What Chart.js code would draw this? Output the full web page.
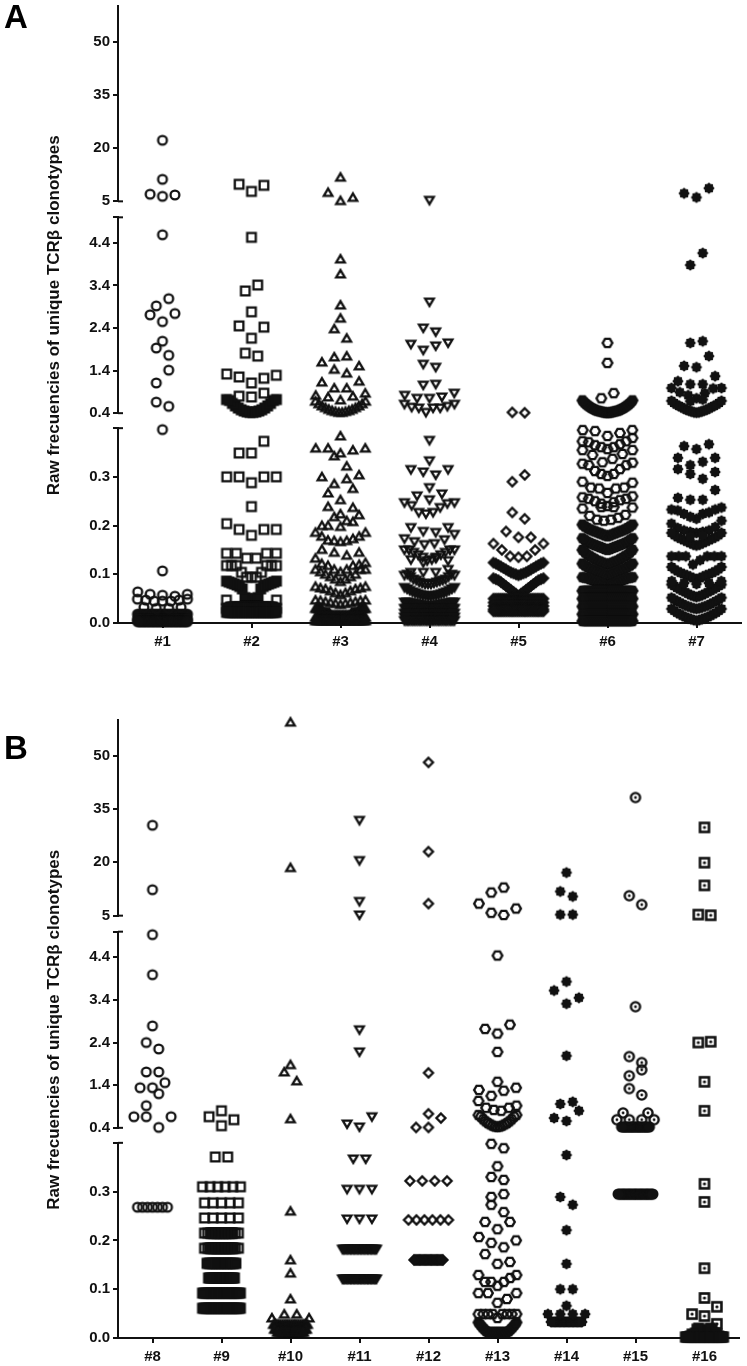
<!DOCTYPE html>
<html><head><meta charset="utf-8">
<style>html,body{margin:0;padding:0;background:#fff;overflow:hidden;width:747px;height:1366px}
canvas{position:absolute;left:0}</style>
<script src="https://cdn.jsdelivr.net/npm/chart.js@4"></script>
</head><body>
<canvas id="a" style="top:0"></canvas>
<canvas id="b" style="top:714px"></canvas>
<script>
const categoriesA=['#1','#2','#3','#4','#5','#6','#7'];
const categoriesB=['#8','#9','#10','#11','#12','#13','#14','#15','#16'];
const ticksHigh=[5,20,35,50];
const ticksMid=[0.4,1.4,2.4,3.4,4.4];
const ticksLow=[0,0.1,0.2,0.3];
const axisTitle='Raw frecuencies of unique TCRβ clonotypes';
// helpers: R = a run of equal values, S = a row with a narrower span (px), H = keep a crowded row's marks open
const R=(v,n)=>Array(n).fill(v);
const S=(span,row)=>{row.span=span;return row;};
const H=row=>{row.hollow=true;return row;};

// Each series is a list of swarm rows. In a row, values run from the centre outwards (left, right, left ...)
const series1=[[22.2],[11.2],[6.4,7,6.8],[4.59],[2.92,3.09],[2.55,2.71,2.74],[2.09],[1.93,1.76],[1.11,1.41],[.66,.56],
 [.397],[.107],[.057,.059,.055,.064,.059],[.045,.045,.045,.047,.047,.049,.049],[.03,.03,.032,.032],
 R(.018,25),R(.008,40),R(.003,40)];
const series2=[[7.8,9.8,9.5],[4.53],[3.27,3.41],[2.78],[2.16,2.45,2.42],[1.81,1.74],[1.11,1.25,1.22,1.32,1.29],[.78,.80,.87],
 [.42,.42,.43,.43,.45,.45,.48,.48,.52,.52,.57,.57,.63,.63,.70,.70,.72,.72],
 [.349,.349,.373],[.288,.30,.30,.30,.30],[.239],[.18,.192,.192,.204,.192],[.133,.133,.143,.143,.143,.143],
 [.094,.094,.094,.104,.104,.118,.118,.118,.118,.118,.118],
 [.048,.048,.05,.05,.052,.052,.07,.07,.075,.075,.078,.078,.08,.08,.082,.082,.084,.084,.086,.086],
 H([...R(null,22),.047,.047]),S(42,R(.033,22)),R(.03,30),R(.022,30)];
const series3=[[11.8],[5.2,7.5,6.1],[4.02],[3.67],[2.94],[2.63],[2.38,2.16],[1.72,1.74],[1.43,1.34,1.6,1.51],[.99,.99,1.13,1.15],
 [.71,.78,.80,.82,.87],[.42,.42,.44,.44,.46,.46,.49,.49,.53,.53,.57,.57,.62,.62,.68,.68],
 [.384],[.349,.359,.355,.359,.359],[.343,.322],[.286,.296,.30,.304],[.253,.267,.276],[.224,.239,.237],[.218,.21,.2,.222],[.198,.2,.208],
 [.167,.169,.169,.170,.173,.178,.178,.186,.186],[.145,.139,.151,.145],
 [.105,.11,.11,.118,.118,.122,.12,.133,.124],[.085,.09,.09,.095,.095,.1,.1,.105,.11,.11,.11],
 [.058,.062,.062,.066,.066,.07,.07,.072,.072,.075,.075],[.038,.04,.04,.042,.042,.044,.044,.046,.046,.047,.047],
 [...R(.016,14),...R(.022,10),...R(.03,10)],R(.012,40),R(.005,40)];
const series4=[[5.3],[3.01],[2.4,2.31],[1.88,1.98,2.02,2.05],[1.55,1.48],[1.06,1.08],[.75,.75,.78,.82,.87],[.42,.52,.52,.52,.54,.56,.61,.61],
 [.375],[.333],[.31,.304,.315,.315],[.278,.261,.265],[.253],[.224,.227,.227,.237,.241,.245,.247,.247],[.188,.186,.196,.196],
 [.161,.163,.167,.171,.173,.182],[.128,.13,.135,.135,.14,.14,.145,.145,.15,.15,.15,.15],[.124,.133,.13,.128],[.104,.104,.104,.11],
 H([.08,.08,.08,.082,.082,.084,.084,.086,.088,.088,.09,.09,.095,.095,.1,.1,.098,.098]),
 [.055,.055,.056,.056,.057,.057,.058,.058,.06,.06,.062,.062,.064,.064,.067,.067,.07,.07,.073,.073],
 [.035,.035,.036,.036,.037,.037,.038,.038,.039,.039,.04,.04,.041,.041,.042,.042,.043,.043,.043,.043],
 R(.03,30),R(.02,30),R(.012,30),R(.005,30)];
const series5=[[.42,.41],[.29,.304],[.227,.214],[.176,.188,.176],[.135,.137,.137,.15,.15,.163,.163],
 [.098,.1,.1,.102,.102,.104,.104,.107,.107,.11,.11,.113,.113,.116,.116,.119,.119,.122,.122,.124,.124],
 [.056,.06,.06,.064,.064,.068,.068,.072,.072,.076,.076,.08,.08,.084,.084,.088,.088,.09,.09,.092,.092],
 R(.05,28),R(.042,28),R(.035,28),R(.028,28),R(.024,28)];
const series6=[[2.05],[1.58],[.75,.87],
 [.41,.41,.41,.42,.42,.43,.43,.44,.44,.45,.45,.46,.46,.48,.48,.5,.5,.52,.52,.55,.55,.58,.58,.61,.61,.65,.65,.7,.7],
 [.384,.394,.39,.396,.396],[.357,.361,.361,.365,.367,.371,.373,.373,.38],[.33,.337,.345,.347,.355,.355],
 [.302,.306,.306,.312,.316,.324,.324,.327,.329],[.267,.276,.276,.278,.278,.29,.288],[.24,.245,.248,.25,.252,.255,.255,.258,.26],[.238,.238],
 [.21,.212,.212,.216,.22,.222,.235,.237],
 [.178,.18,.18,.182,.182,.184,.184,.186,.186,.188,.188,.19,.19,.192,.192,.195,.195,.198,.198,.202,.202],
 [.15,.152,.152,.154,.154,.156,.156,.158,.158,.16,.16,.162,.162,.164,.164,.167,.167,.17,.17,.174,.174],
 [.12,.122,.122,.124,.124,.126,.126,.128,.128,.131,.131,.134,.134,.137,.137,.14,.14,.145,.145,.15,.15],
 [.098,.1,.1,.102,.102,.104,.104,.106,.106,.108,.108,.11,.11,.112,.112,.115,.115,.118,.118,.122,.122],
 [.076,.078,.078,.08,.08,.082,.082,.084,.084,.086,.086,.088,.088,.09,.09,.092,.092,.093,.093,.094,.094],
 R(.066,26),R(.05,26),R(.034,26),R(.018,26),R(.004,26)];
const series7=[[6.1,7.25,8.7],[3.88,4.16],[2.05,2.09],[1.48,1.51,1.74],[1.08,1.08,1.15,1.27],[.75,.82,.87,.89,.98,.99,.99],
 [.68,.72],[.41,.42,.42,.44,.44,.46,.46,.48,.48,.51,.51,.54,.54,.57,.57,.6,.6,.64,.64,.69,.69],
 [.357,.363,.367],[.324,.331,.339,.339],[.306,.296,.316,.31],[.253,.253,.257,.273],
 [.214,.218,.224,.224,.227,.231,.233,.233,.237],[.185,.187,.187,.19,.19,.195,.197,.204,.21],
 [.159,.161,.161,.164,.164,.167,.167,.17,.17,.173,.173,.176,.176,.18,.18,.185,.185],[.178,.18],
 [.12,.129,.137,.137,.137,.137,.137,.137],
 [.09,.092,.092,.095,.095,.098,.098,.1,.1,.103,.103,.106,.106,.11,.11,.115,.115],[.08,.082,.082,.086,.086],
 [.053,.055,.055,.057,.057,.06,.06,.063,.063,.066,.066,.069,.069,.072,.072,.076,.076,.079,.079],
 [.029,.03,.03,.032,.032,.034,.034,.036,.036,.039,.039,.042,.042,.045,.045,.048,.048,.052,.052],
 [.005,.006,.006,.008,.008,.01,.01,.012,.012,.015,.015,.018,.018,.021,.021,.025,.025,.029,.029]];
const series8=[[30.4],[12.3],[4.93],[3.99],[2.79],[2.4,2.25],[1.71,1.71],[1.34,1.34,1.46],[.92,1.2],[.66,.41,.66,.66],S(30,R(.268,7))];
const series9=[[.8],[.45,.66,.59],[.371,.371],R(.31,6),S(34,R(.277,5)),S(34,R(.246,5)),S(34,R(.215,12)),S(22,R(.215,24)),S(34,R(.184,12)),S(24,R(.184,24)),S(29,R(.153,20)),S(26,R(.123,20)),R(.092,24),R(.061,24)];
const series10=[[59.4],[18.5],[1.88],[1.71,1.5],[.61],[.26],[.16],[.133],[.08],[.049,.049,.041,.041],S(34,R(.028,20)),S(32,R(.018,20)),S(26,R(.012,20))];
const series11=[[31.8],[20.5],[9],[5.2],[2.7],[2.18],[.42,.49,.66],[.367,.367],[.305,.305,.305],[.244,.244,.244],S(34,R(.182,25)),S(34,R(.121,25))];
const series12=[[48.1],[23],[8.4],[1.69],[.73],[.41,.41,.63],[.322,.322,.322,.322],S(40,R(.242,6)),S(29,R(.16,25))];
const series13=[[11.5,12.9],[5.8,5.2,8.4,7],[4.44],[2.61,2.72,2.82],[2.18],[1.48],[1.15,1.27,1.29,1.34],[.82,.8,.87,.87,1.03,.92],
 [.42,.43,.43,.45,.45,.48,.48,.51,.51,.55,.55,.6,.6,.66,.66,.7,.7],
 [.398,.389],[.352],[.33,.324],[.273,.295],[.289,.258],[.223,.238,.238],[.195,.186,.207,.2],[.152,.172,.156],
 [.107,.115,.115,.115,.123,.129,.129],[.072,.092,.08,.092,.092],[.041,.049,.049,.049,.049,.049,.049,.049,.049],
 [...R(.012,11),.014,.014,.018,.018,.022,.022,.027,.027,.032,.032]];
const series14=[[17.1],[11.8,10.4],[5.3,5.3],[3.83],[3.31,3.62,3.45],[2.09],[.96,1.01],[.56,.63,.8],[.375],[.289,.273],[.221],[.152],[.1,.1],[.066],[.049,.049,.049,.049],S(31,R(.033,25))];
const series15=[[38.2],[10.6,8.1],[3.24],[2.07,1.93],[1.62,1.76],[1.32,1.17],[null,.75,.75],[.59,.59,.59,.59],S(28,R(.42,25)),S(35,R(.295,30))];
const series16=[[29.8],[19.9],[13.5],[5.3,5.1],[2.4,2.42],[1.48],[.8],[.316],[.279],[.143],[.082],[null,null,.064],[.045,.049,.029],
 S(28,[.006,.008,.01,.012,.016,.016,.02,.02,.018,.018,.01,.01,.006,.006,.008,.008,.004,.004]),R(.002,30)];

const INK='#111111';
function mark(draw){const c=document.createElement('canvas');c.width=c.height=18;const g=c.getContext('2d');g.translate(9,9);g.strokeStyle=g.fillStyle=INK;g.lineWidth=2.3;g.lineJoin='miter';draw(g);return c;}
function poly(g,pts){g.beginPath();pts.forEach((p,i)=>i?g.lineTo(p[0],p[1]):g.moveTo(p[0],p[1]));g.closePath();}
function pair(path,lw){return {open:mark(g=>{if(lw)g.lineWidth=lw;path(g);g.stroke();}),solid:mark(g=>{if(lw)g.lineWidth=lw;path(g);g.fill();g.stroke();})};}
const circlePath=g=>{g.beginPath();g.arc(0,0,4.4,0,7);};
const squarePath=g=>{g.beginPath();g.rect(-4.3,-4.3,8.6,8.6);};
const starMark=mark(g=>{const p=[];for(let i=0;i<16;i++){const r=i%2?4.5:5.7,a=i*Math.PI/8;p.push([r*Math.cos(a),r*Math.sin(a)]);}poly(g,p);g.fill();});
const markers={
 circle:pair(circlePath),
 square:pair(squarePath),
 up:pair(g=>poly(g,[[0,-3.9],[4.3,3.4],[-4.3,3.4]])),
 down:pair(g=>poly(g,[[0,3.9],[4.3,-3.4],[-4.3,-3.4]])),
 diamond:pair(g=>poly(g,[[0,-4.5],[4.5,0],[0,4.5],[-4.5,0]])),
 hexagon:pair(g=>poly(g,[[-4.8,0],[-2.4,-4.1],[2.4,-4.1],[4.8,0],[2.4,4.1],[-2.4,4.1]]),2.4),
 star:{open:starMark,solid:starMark},
 ring:{open:mark(g=>{g.beginPath();g.arc(0,0,4.6,0,7);g.lineWidth=2.4;g.stroke();g.beginPath();g.arc(0,0,1.4,0,7);g.fill();}),solid:mark(g=>{g.beginPath();g.arc(0,0,5.5,0,7);g.fill();})},
 boxDot:{open:mark(g=>{g.lineWidth=2.6;g.strokeRect(-4.5,-4.5,9,9);g.beginPath();g.arc(0,0,1.6,0,7);g.fill();}),solid:mark(g=>{g.fillRect(-5.6,-5.6,11.2,11.2);})}
};
const base=12.4, crowded=18;
function buildDatasets(list,styles,unitPx,span){
 const out=[];
 list.forEach((rows,gi)=>{
  const parts={};
  rows.forEach(row=>{
   const n=row.length, w=row.span||span, step=n>1?Math.min(base,w/(n-1)):0;
   const kind=(n>=crowded&&!row.hollow)?'solid':'open';
   row.forEach((v,i)=>{
    if(v===null)return;
    let slot;
    if(n%2){slot=i===0?0:(i%2?-(i+1)/2:i/2);}else{slot=(i%2?1:-1)*(Math.floor(i/2)+.5);}
    const id=v>5?'yHigh':(v>=.4?'yMid':'yLow');
    const key=id+'|'+kind;
    (parts[key]=parts[key]||[]).push({x:gi+1+slot*step/unitPx,y:v});
   });
  });
  for(const key in parts){const [id,kind]=key.split('|');out.push({data:parts[key],yAxisID:id,pointStyle:styles[gi][kind],pointRadius:5,clip:false,showLine:false,pointBorderWidth:0,backgroundColor:INK,borderColor:INK});}
 });
 return out;
}
const capPlugin={id:'caps',beforeDatasetsDraw(c){
 const g=c.ctx;g.save();g.strokeStyle=INK;g.lineWidth=2;
 [['yHigh',5],['yMid',5],['yMid',.4],['yLow',.4]].forEach(([id,v])=>{const s=c.scales[id],y=s.getPixelForValue(v);g.beginPath();g.moveTo(s.right,y);g.lineTo(s.right+5,y);g.stroke();});
 g.restore();}};
const letterPlugin={id:'letter',afterDraw(c,a,o){const g=c.ctx;g.save();g.fillStyle='#000';g.font='bold 33px "Liberation Sans"';g.textBaseline='alphabetic';g.fillText(o.text,o.x,o.y);g.restore();}};
const flat=s=>{s.paddingTop=0;s.paddingBottom=0;};
function yAxis(min,max,tickVals,cap,extra,weight,order){
 return Object.assign({type:'linear',axis:'y',position:'left',stack:'v',stackWeight:weight,weight:order,min,max,
  border:{display:true,color:INK,width:2},
  grid:{drawOnChartArea:false,color:INK,lineWidth:2,tickLength:5,drawTicks:true},
  ticks:{color:'#111',font:{family:'"Liberation Sans"',weight:'bold',size:15},padding:3,autoSkip:false,maxRotation:0,
    callback:v=>tickVals.includes(v)?(max<=5?v.toFixed(1):String(v)):''},
  afterBuildTicks:s=>{s.ticks=tickVals.concat(cap).map(value=>({value}));},
  afterFit:s=>{s.width=118;flat(s);}},extra||{});
}
function gapAxis(weight,order){return {type:'linear',axis:'y',position:'left',stack:'v',stackWeight:weight,weight:order,min:0,max:1,
 border:{display:false},grid:{display:false},ticks:{display:false},afterFit:s=>{s.width=118;flat(s);}};}
function make(id,cats,list,styles,unitPx,span,h,xH,padR,letter){
 const cv=document.getElementById(id);cv.width=747;cv.height=h;cv.style.width='747px';cv.style.height=h+'px';
 return new Chart(cv,{type:'scatter',data:{datasets:buildDatasets(list,styles,unitPx,span)},plugins:[capPlugin,letterPlugin],
 options:{responsive:false,animation:false,events:[],layout:{padding:{top:6,right:padR,left:0,bottom:0}},
  plugins:{legend:{display:false},tooltip:{enabled:false},letter},
  scales:{
   x:{type:'linear',position:'bottom',min:.5,max:cats.length+.5,
    border:{display:true,color:INK,width:2},
    grid:{drawOnChartArea:false,color:INK,lineWidth:2,tickLength:5},
    ticks:{color:'#111',font:{family:'"Liberation Sans"',weight:'bold',size:15},padding:5,autoSkip:false,maxRotation:0,callback:v=>cats[v-1]||''},
    afterBuildTicks:s=>{s.ticks=cats.map((c,i)=>({value:i+1}));},afterFit:s=>{s.height=xH;s.paddingLeft=0;s.paddingRight=0;}},
   yLow:yAxis(0,.4,ticksLow,[.4],null,195,1),
   yGap1:gapAxis(15,2),
   yMid:yAxis(.4,5,ticksMid,[5],{title:{display:true,text:axisTitle,color:'#111',font:{family:'"Liberation Sans"',weight:'bold',size:17},padding:{top:44,bottom:0}}},196,3),
   yGap2:gapAxis(16,4),
   yHigh:yAxis(5,60,ticksHigh,[],null,195.5,5)
  }}});
}
make('a',categoriesA,[series1,series2,series3,series4,series5,series6,series7],
 [markers.circle,markers.square,markers.up,markers.down,markers.diamond,markers.hexagon,markers.star],89,50,660,37,6,{text:'A',x:4,y:28});
make('b',categoriesB,[series8,series9,series10,series11,series12,series13,series14,series15,series16],
 [markers.circle,markers.square,markers.up,markers.down,markers.diamond,markers.hexagon,markers.star,markers.ring,markers.boxDot],69,38,652,28,8,{text:'B',x:4,y:45});
</script>
</body></html>
